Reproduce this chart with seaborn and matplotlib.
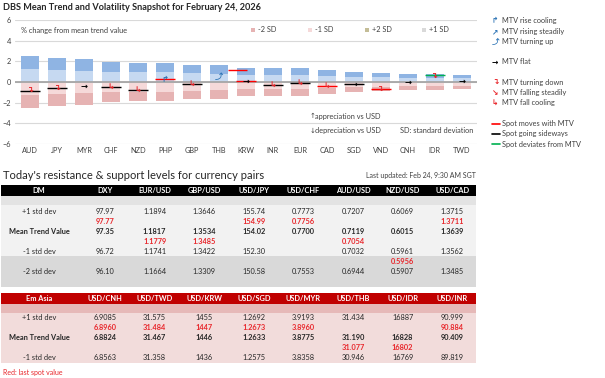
import numpy as np
import pandas as pd
import matplotlib.pyplot as plt
import matplotlib.patches as mpatches
import seaborn as sns

W, H = 605, 378

# chart data
currencies = ["AUD", "JPY", "MYR", "CHF", "NZD", "PHP", "GBP", "THB", "KRW",
              "INR", "EUR", "CAD", "SGD", "VND", "CNH", "IDR", "TWD"]
one_sd = [1.25, 1.15, 1.1, 0.98, 0.93, 0.93, 0.84, 0.8, 0.7,
          0.67, 0.66, 0.57, 0.47, 0.44, 0.4, 0.37, 0.36]
spot = [-0.85, -0.55, np.nan, -0.45, -0.82, 0.3, -0.2, 1.13, 0.07,
        -0.3, -0.12, -0.37, -0.17, -0.72, np.nan, 0.68, np.nan]
spot_signal = ["sideways", "sideways", None, "sideways", "sideways", "with", "sideways", "with", "with",
               "sideways", "sideways", "with", "sideways", "with", None, "deviates", None]
mtv_signal = ["turn_down", "turn_down", "flat", "fall_cool", "fall_cool", "rise_cool", "fall_cool", "turn_up", "flat",
              "fall_cool", "fall_cool", "fall_cool", "flat", "turn_down", "flat", "turn_down", "flat"]
signal_y = [-0.85, -0.6, -0.37, -0.5, -0.82, 0.25, -0.22, 0.5, 0.07,
            -0.33, -0.15, -0.4, -0.17, -0.72, -0.03, 0.55, 0.03]

# DM table
dm_pairs = ["DXY", "EUR/USD", "GBP/USD", "USD/JPY", "USD/CHF", "AUD/USD", "NZD/USD", "USD/CAD"]
dm_plus1 = ["97.97", "1.1894", "1.3646", "155.74", "0.7773", "0.7207", "0.6069", "1.3715"]
dm_spot_a = ["97.77", "", "", "154.99", "0.7756", "", "", "1.3711"]
dm_mtv = ["97.35", "1.1817", "1.3534", "154.02", "0.7700", "0.7119", "0.6015", "1.3639"]
dm_spot_b = ["", "1.1779", "1.3485", "", "", "0.7054", "", ""]
dm_minus1 = ["96.72", "1.1741", "1.3422", "152.30", "", "0.7032", "0.5961", "1.3562"]
dm_spot_c = ["", "", "", "", "", "", "0.5956", ""]
dm_minus2 = ["96.10", "1.1664", "1.3309", "150.58", "0.7553", "0.6944", "0.5907", "1.3485"]

# Em Asia table
em_pairs = ["USD/CNH", "USD/TWD", "USD/KRW", "USD/SGD", "USD/MYR", "USD/THB", "USD/IDR", "USD/INR"]
em_plus1 = ["6.9085", "31.575", "1455", "1.2692", "3.9193", "31.434", "16887", "90.999"]
em_spot_a = ["6.8960", "31.484", "1447", "1.2673", "3.8960", "", "", "90.884"]
em_mtv = ["6.8824", "31.467", "1446", "1.2633", "3.8775", "31.190", "16828", "90.409"]
em_spot_b = ["", "", "", "", "", "31.077", "16802", ""]
em_minus1 = ["6.8563", "31.358", "1436", "1.2575", "3.8358", "30.946", "16769", "89.819"]

FONT = ["Lato", "DejaVu Sans"]
SYM = ["DejaVu Sans", "Noto Sans CJK JP", "Noto Sans", "Liberation Sans"]
RED = "#e8262b"
BLUE = "#2e75b6"
c_p2, c_p1, c_m1, c_m2 = "#8fb4e3", "#c6d9f1", "#f5d9d9", "#e6b3b3"

glyphs = {
    "rise_cool": ("↱", BLUE), "rise": ("↗", BLUE), "turn_up": ("⤴", BLUE),
    "flat": ("→", "black"),
    "turn_down": ("↴", RED), "fall": ("↘", RED), "fall_cool": ("↳", RED),
}
spot_colors = {"with": "#ff0000", "sideways": "black", "deviates": "#00b050"}
spot_shift = {"THB": 0.68}

sns.set_style("white")
plt.rcParams["font.family"] = FONT

fig = plt.figure(figsize=(W / 100, H / 100), dpi=100)


def fx(x):
    return x / W


def fy(y):
    return 1 - y / H


def ftext(x, y, s, **kw):
    kw.setdefault("fontsize", 5.3)
    kw.setdefault("va", "center")
    fig.text(fx(x), fy(y), s, **kw)


def frect(x0, y0, x1, y1, color):
    fig.patches.append(mpatches.Rectangle((fx(x0), fy(y1)), fx(x1) - fx(x0), fy(y0) - fy(y1),
                                          transform=fig.transFigure, color=color, lw=0, zorder=0))


# main chart
ax = fig.add_axes([fx(15), fy(144), (477 - 15) / W, (144 - 20) / H])
bars = pd.DataFrame({"ccy": currencies, "sd": one_sd})
bars["p2"] = 2 * bars["sd"]
bars["p1"] = bars["sd"]
bars["m1"] = -bars["sd"]
bars["m2"] = -2 * bars["sd"]
for col, colr in [("p2", c_p2), ("m2", c_m2), ("p1", c_p1), ("m1", c_m1)]:
    sns.barplot(data=bars, x="ccy", y=col, color=colr, saturation=1, width=0.68,
                linewidth=0, ax=ax, zorder=2)

ax.axhline(0, color="#a6a6a6", lw=1.3, zorder=3)
for i, (v, s) in enumerate(zip(spot, spot_signal)):
    if s is None:
        continue
    x0 = i - 0.36 + spot_shift.get(currencies[i], 0)
    ax.hlines(v, x0, x0 + 0.72, color=spot_colors[s], lw=1.0, zorder=4)
for i, (sig, yv) in enumerate(zip(mtv_signal, signal_y)):
    g, c = glyphs[sig]
    ax.text(i, yv, g, color=c, fontsize=6, ha="center", va="center",
            fontweight="bold", family=SYM, zorder=5)

ax.set_xlim(-0.56, 16.56)
ax.set_ylim(-6, 6)
ax.set_yticks([-6, -4, -2, 0, 2, 4, 6])
ax.grid(axis="y", color="#d9d9d9", lw=0.8, zorder=0)
ax.set_axisbelow(True)
ax.set_xlabel("")
ax.set_ylabel("")
sns.despine(ax=ax, left=True, bottom=True)
ax.tick_params(axis="both", length=0, labelsize=5.3, colors="#404040")
ax.tick_params(axis="y", pad=3)
ax.tick_params(axis="x", pad=2.5)

ax.text(0.012, 0.915, "% change from mean trend value", transform=ax.transAxes,
        fontsize=5.3, color="#404040", va="center")
for x, lab, colr in [(253, "-2 SD", c_m2), (310, "-1 SD", c_m1), (367, "+2 SD", "#c4bd97"), (424, "+1 SD", "#d9d9d9")]:
    frect(x - 2, 28, x + 2, 32, colr)
    ftext(x + 5, 30, lab, color="#404040")

ftext(310, 116, "↑", color="#404040", family=SYM, fontsize=5)
ftext(315, 116, "appreciation vs USD", color="#404040")
ftext(310, 131, "↓", color="#404040", family=SYM, fontsize=5)
ftext(315, 131, "depreciation vs USD", color="#404040")
ftext(400, 131, "SD: standard deviation", color="#404040")

# right legend
leg_glyphs = [("rise_cool", "MTV rise cooling", 21), ("rise", "MTV rising steadily", 31.5),
              ("turn_up", "MTV turning up", 41.5), ("flat", "MTV flat", 62),
              ("turn_down", "MTV turning down", 82.5), ("fall", "MTV falling steadily", 93),
              ("fall_cool", "MTV fall cooling", 103)]
for key, lab, y in leg_glyphs:
    g, c = glyphs[key]
    ftext(495, y, g, color=c, family=SYM, fontsize=5.5, ha="center", fontweight="bold")
    ftext(502, y, lab, color="#404040")
for key, lab, y in [("with", "Spot moves with MTV", 123.5), ("sideways", "Spot going sideways", 133.5),
                    ("deviates", "Spot deviates from MTV", 144)]:
    fig.add_artist(plt.Line2D([fx(492), fx(500)], [fy(y), fy(y)], color=spot_colors[key], lw=1.2,
                              transform=fig.transFigure))
    ftext(502, y, lab, color="#404040")

ftext(3, 7, "DBS Mean Trend and Volatility Snapshot for February 24, 2026",
      fontsize=6.6, fontweight="bold", color="#262626")

# tables
ftext(3, 175, "Today's resistance & support levels for currency pairs", fontsize=8.0, color="#262626")
ftext(476, 175, "Last updated: Feb 24, 9:30 AM SGT", fontsize=5.0, color="#404040", ha="right")

col_x = [105 + 49.6 * i for i in range(8)]
LABEL_X = 39

# DM block
frect(1, 185, 476, 195.5, "black")
frect(1, 195.5, 476, 205, "#e3e3e3")
frect(1, 205, 476, 256, "#f2f2f2")
frect(1, 256, 476, 287, "#d9d9d9")
ftext(LABEL_X, 190.5, "DM", color="white", fontweight="bold", ha="center")
for x, p in zip(col_x, dm_pairs):
    ftext(x, 190.5, p, color="white", fontweight="bold", ha="center")
dm_rows = [(211.5, "+1 std dev", dm_plus1, "#262626", "normal"),
           (221.5, "", dm_spot_a, RED, "bold"),
           (231.5, "Mean Trend Value", dm_mtv, "#262626", "bold"),
           (241.5, "", dm_spot_b, RED, "bold"),
           (251.5, "-1 std dev", dm_minus1, "#262626", "normal"),
           (261.5, "", dm_spot_c, RED, "bold"),
           (272, "-2 std dev", dm_minus2, "#262626", "normal")]
for y, lab, vals, colr, wt in dm_rows:
    if lab:
        ftext(LABEL_X, y, lab, color="#262626", fontweight=wt, ha="center")
    for x, v in zip(col_x, vals):
        ftext(x, y, v, color=colr, fontweight=wt, ha="center")

# Em Asia block
frect(1, 293, 476, 303.5, "#c00000")
frect(1, 303.5, 476, 313, "#e6b9b8")
frect(1, 313, 476, 363, "#f2dcdb")
ftext(LABEL_X, 298.5, "Em Asia", color="white", fontweight="bold", ha="center")
for x, p in zip(col_x, em_pairs):
    ftext(x, 298.5, p, color="white", fontweight="bold", ha="center")
em_rows = [(318, "+1 std dev", em_plus1, "#262626", "normal"),
           (328, "", em_spot_a, RED, "bold"),
           (338, "Mean Trend Value", em_mtv, "#262626", "bold"),
           (347.5, "", em_spot_b, RED, "bold"),
           (358, "-1 std dev", em_minus1, "#262626", "normal")]
for y, lab, vals, colr, wt in em_rows:
    if lab:
        ftext(LABEL_X, y, lab, color="#262626", fontweight=wt, ha="center")
    for x, v in zip(col_x, vals):
        ftext(x, y, v, color=colr, fontweight=wt, ha="center")

ftext(3, 372.5, "Red: last spot value", color=RED, fontsize=5)

fig.savefig("out.png", dpi=100)
